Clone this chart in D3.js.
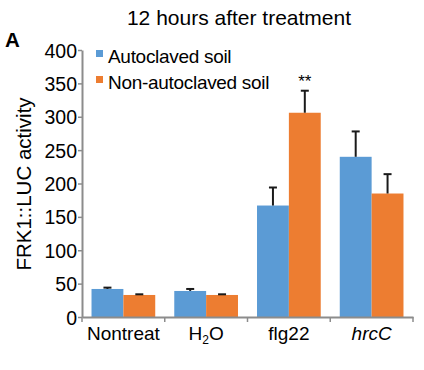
<!DOCTYPE html>
<html>
<head>
<meta charset="utf-8">
<script src="https://cdn.jsdelivr.net/npm/d3@7"></script>
<style>
  body { margin: 0; background: #fff; }
  text { font-family: "Liberation Sans", Arial, sans-serif; fill: #000; }
</style>
</head>
<body>
<div id="chart"></div>
<script>
// data ======================================================
var categories = ["Nontreat", "H2O", "flg22", "hrcC"];
var seriesNames = ["Autoclaved soil", "Non-autoclaved soil"];
var autoclaved = [42, 39, 167, 240];
var autoclavedErr = [2, 3, 27, 38];
var nonAutoclaved = [33, 33, 306, 185];
var nonAutoclavedErr = [1, 1, 33, 29];
var yTicks = [0, 50, 100, 150, 200, 250, 300, 350, 400];
var colors = ["#5B9BD5", "#ED7D31"];
// ===========================================================

var w = 424, h = 370;
var margin = {left: 82, right: 11, top: 50, bottom: 53};
var fontFam = "Liberation Sans, Arial, sans-serif";

var svg = d3.select("#chart").append("svg")
    .attr("width", w).attr("height", h);

var x = d3.scaleBand().domain(categories)
    .range([margin.left, w - margin.right])
    .paddingInner(0.23).paddingOuter(0.115);
var x1 = d3.scaleBand().domain([0, 1]).range([0, x.bandwidth()]);
var y = d3.scaleLinear().domain([0, 400]).range([h - margin.bottom, margin.top]);

var rows = categories.map(function(c, i) {
    return {cat: c, vals: [
        {s: 0, v: autoclaved[i], e: autoclavedErr[i]},
        {s: 1, v: nonAutoclaved[i], e: nonAutoclavedErr[i]}
    ]};
});

// bars
var g = svg.selectAll("g.grp").data(rows).enter().append("g")
    .attr("class", "grp")
    .attr("transform", function(d) { return "translate(" + x(d.cat) + ",0)"; });

g.selectAll("rect").data(function(d) { return d.vals; }).enter().append("rect")
    .attr("x", function(d) { return x1(d.s); })
    .attr("width", x1.bandwidth())
    .attr("y", function(d) { return y(d.v); })
    .attr("height", function(d) { return y(0) - y(d.v); })
    .attr("fill", function(d) { return colors[d.s]; });

// error bars (upper only)
var eb = g.selectAll("g.err").data(function(d) { return d.vals; }).enter().append("g")
    .attr("class", "err");
eb.append("line")
    .attr("x1", function(d) { return x1(d.s) + x1.bandwidth() / 2; })
    .attr("x2", function(d) { return x1(d.s) + x1.bandwidth() / 2; })
    .attr("y1", function(d) { return y(d.v); })
    .attr("y2", function(d) { return y(d.v + d.e); })
    .attr("stroke", "#1a1a1a").attr("stroke-width", 2);
eb.append("line")
    .attr("x1", function(d) { return x1(d.s) + x1.bandwidth() / 2 - 4; })
    .attr("x2", function(d) { return x1(d.s) + x1.bandwidth() / 2 + 4; })
    .attr("y1", function(d) { return y(d.v + d.e); })
    .attr("y2", function(d) { return y(d.v + d.e); })
    .attr("stroke", "#1a1a1a").attr("stroke-width", 2);

// y axis
var yAxis = svg.append("g")
    .attr("transform", "translate(" + margin.left + ",0)")
    .call(d3.axisLeft(y).tickValues(yTicks).tickSize(4).tickSizeOuter(0));
yAxis.attr("font-size", 19.5).attr("font-family", fontFam);
yAxis.select(".domain").attr("stroke", "#8c8c8c").attr("stroke-width", 2);
yAxis.selectAll(".tick line").attr("stroke", "#8c8c8c").attr("stroke-width", 1.5);
yAxis.selectAll(".tick text").attr("x", -5).attr("dy", "0.36em").attr("fill", "#000");

// x axis
var xAxis = svg.append("g")
    .attr("transform", "translate(0," + y(0) + ")")
    .call(d3.axisBottom(x).tickSize(0).tickFormat(""));
xAxis.select(".domain").attr("stroke", "#8c8c8c").attr("stroke-width", 2);
var xEdges = categories.map(function(c) { return x(c) - x.step() * x.paddingInner() / 2; });
xEdges.push(w - margin.right);
xAxis.selectAll("line.sep").data(xEdges).enter().append("line")
    .attr("class", "sep")
    .attr("x1", function(d) { return d; }).attr("x2", function(d) { return d; })
    .attr("y1", 0).attr("y2", 5)
    .attr("stroke", "#8c8c8c").attr("stroke-width", 1.5);

var xl = svg.selectAll("text.xl").data(categories).enter().append("text")
    .attr("class", "xl")
    .attr("x", function(d) { return x(d) + x.bandwidth() / 2; })
    .attr("y", 340)
    .attr("text-anchor", "middle")
    .attr("font-size", 19);
xl.each(function(d) {
    var t = d3.select(this);
    if (d === "H2O") {
        t.append("tspan").text("H");
        t.append("tspan").attr("font-size", 12).attr("dy", 4).text("2");
        t.append("tspan").attr("dy", -4).text("O");
    } else if (d === "hrcC") {
        t.style("font-style", "italic").text(d);
    } else {
        t.text(d);
    }
});

// title, panel letter, y label
svg.append("text").attr("x", 239).attr("y", 25).attr("text-anchor", "middle")
    .attr("font-size", 21).text("12 hours after treatment");
svg.append("text").attr("x", 5).attr("y", 47).attr("font-size", 20.5)
    .attr("font-weight", "bold").text("A");
svg.append("text")
    .attr("transform", "translate(31,184) rotate(-90)")
    .attr("text-anchor", "middle").attr("font-size", 20.5)
    .text("FRK1::LUC activity");

// significance
svg.append("text")
    .attr("x", x("flg22") + x1(1) + x1.bandwidth() / 2)
    .attr("y", y(nonAutoclaved[2] + nonAutoclavedErr[2]) - 4)
    .attr("text-anchor", "middle").attr("font-size", 17).text("**");

// legend
var leg = svg.selectAll("g.leg").data(seriesNames).enter().append("g")
    .attr("class", "leg")
    .attr("transform", function(d, i) { return "translate(96," + (50 + i * 26) + ")"; });
leg.append("rect").attr("width", 7).attr("height", 7)
    .attr("fill", function(d, i) { return colors[i]; });
leg.append("text").attr("x", 12).attr("y", 13).attr("font-size", 19)
    .attr("letter-spacing", -0.3)
    .text(function(d) { return d; });
</script>
</body>
</html>
